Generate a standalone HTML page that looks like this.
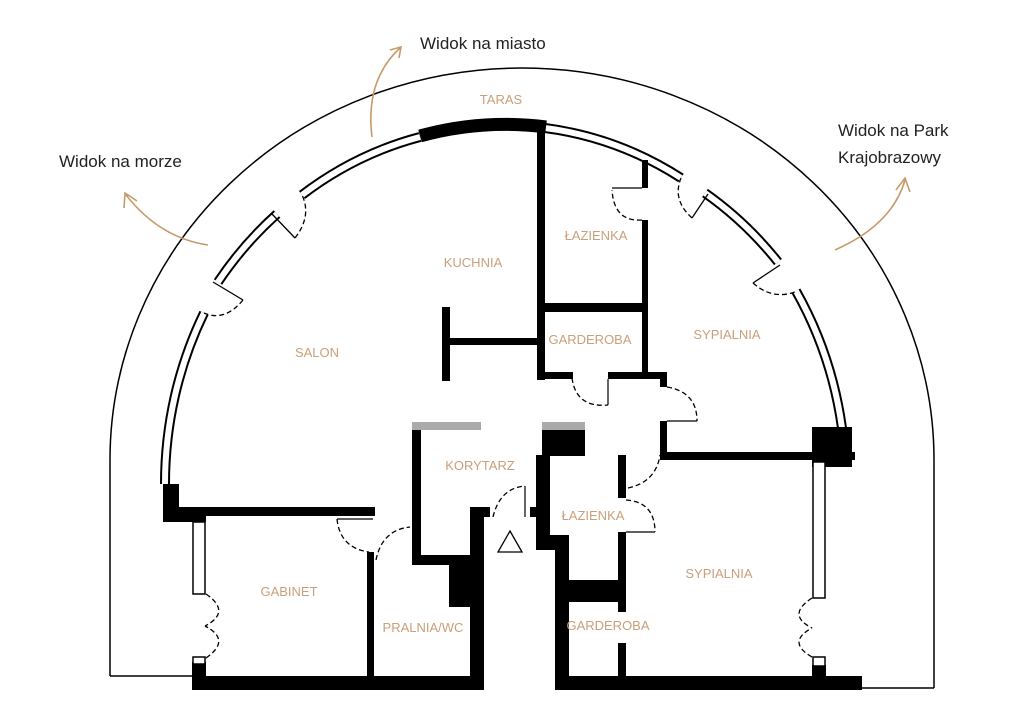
<!DOCTYPE html>
<html><head><meta charset="utf-8"><style>
html,body{margin:0;padding:0;background:#fff;}
svg{display:block;}
.l{font-family:"Liberation Sans",sans-serif;fill:#c9a07a;font-size:13px;text-anchor:middle;}
.b{font-family:"Liberation Sans",sans-serif;fill:#222;font-size:17px;}
.d{fill:none;stroke:#000;stroke-width:1.3;stroke-dasharray:5,3;}
.o{fill:none;stroke:#c79a6c;stroke-width:1.6;}
</style></head><body>
<svg width="1024" height="725" viewBox="0 0 1024 725" xmlns="http://www.w3.org/2000/svg">
<path d="M110,676 L110,460 A412 392 0 0 1 934,460 L934,688" fill="none" stroke="#000" stroke-width="1.5"/>
<line x1="110" y1="676" x2="193" y2="676" stroke="#000" stroke-width="1.5"/>
<line x1="862" y1="688" x2="934" y2="688" stroke="#000" stroke-width="1.5"/>
<defs>
<g id="w">
<path id="w1" d="M165,484 A345 370 0 0 1 204,313"/>
<path d="M218,282 A345 370 0 0 1 277,214"/>
<path d="M302,195 A345 370 0 0 1 420,137"/>
<path d="M545,128 A345 370 0 0 1 681,178"/>
<path d="M705,193 A345 370 0 0 1 778,262"/>
<path d="M796,291 A345 370 0 0 1 842,428"/>
</g>
</defs>
<use href="#w" fill="none" stroke="#000" stroke-width="10"/>
<use href="#w" fill="none" stroke="#fff" stroke-width="6"/>
<path d="M420,136 A345 370 0 0 1 546,127" fill="none" stroke="#000" stroke-width="13"/>
<line x1="213" y1="282" x2="243" y2="300" stroke="#000" stroke-width="1.3"/>
<path class="d" d="M243,300 Q225,322 204,313"/>
<line x1="272" y1="214" x2="295" y2="238" stroke="#000" stroke-width="1.3"/>
<path class="d" d="M295,238 Q312,216 302,195"/>
<line x1="708" y1="194" x2="692" y2="218" stroke="#000" stroke-width="1.3"/>
<path class="d" d="M692,218 Q672,200 681,178"/>
<line x1="780" y1="265" x2="753" y2="283" stroke="#000" stroke-width="1.3"/>
<path class="d" d="M753,283 Q772,300 795,292"/>
<g fill="#000">
<rect x="838" y="427" width="14" height="40"/>
<rect x="163" y="484" width="16" height="38"/>
<rect x="163" y="507" width="212" height="9"/>
<rect x="163" y="514" width="43" height="8"/>
<rect x="192" y="662" width="14" height="28"/>
<rect x="192" y="676" width="292" height="14"/>
<rect x="555" y="676" width="307" height="14"/>
<rect x="367" y="552" width="7" height="124"/>
<rect x="412" y="430" width="9" height="135"/>
<rect x="412" y="555" width="72" height="10"/>
<rect x="449" y="555" width="35" height="52"/>
<rect x="470" y="507" width="14" height="183"/>
<rect x="484" y="507" width="6" height="10"/>
<rect x="542" y="430" width="43" height="26"/>
<rect x="536" y="455" width="14" height="95"/>
<rect x="530" y="507" width="8" height="10"/>
<rect x="550" y="535" width="19" height="15"/>
<rect x="555" y="535" width="14" height="155"/>
<rect x="569" y="580" width="50" height="22"/>
<rect x="618" y="455" width="8" height="43"/>
<rect x="618" y="532" width="8" height="80"/>
<rect x="618" y="643" width="8" height="33"/>
<rect x="660" y="452" width="195" height="8"/>
<rect x="812" y="427" width="40" height="40"/>
<rect x="812" y="665" width="14" height="12"/>
<rect x="537" y="128" width="8" height="252"/>
<rect x="442" y="307" width="8" height="74"/>
<rect x="450" y="338" width="87" height="7"/>
<rect x="545" y="303" width="103" height="9"/>
<rect x="642" y="160" width="6" height="28"/>
<rect x="642" y="220" width="6" height="158"/>
<rect x="537" y="372" width="36" height="7"/>
<rect x="608" y="372" width="59" height="7"/>
<rect x="660" y="372" width="7" height="15"/>
<rect x="660" y="421" width="7" height="34"/>
</g>
<rect x="412" y="422" width="69" height="8" fill="#aaa"/>
<rect x="542" y="422" width="43" height="8" fill="#aaa"/>
<rect x="193" y="522" width="12" height="72" fill="#fff" stroke="#000" stroke-width="1.5"/>
<rect x="193" y="657" width="12" height="7" fill="#fff" stroke="#000" stroke-width="1.5"/>
<rect x="813" y="462" width="12" height="136" fill="#fff" stroke="#000" stroke-width="1.5"/>
<rect x="813" y="657" width="12" height="9" fill="#fff" stroke="#000" stroke-width="1.5"/>
<path class="d" d="M206,594 Q232,612 205,626 M206,658 Q232,640 205,626"/>
<path class="d" d="M812,598 Q786,615 812,628 M812,657 Q786,642 812,628"/>
<path class="d" d="M337,519 Q340,548 369,552"/>
<line x1="337" y1="519" x2="373" y2="519" stroke="#000" stroke-width="1.2"/>
<path class="d" d="M376,560 Q382,530 410,527"/>
<path class="d" d="M493,517 Q500,488 525,486"/>
<line x1="525" y1="486" x2="525" y2="517" stroke="#000" stroke-width="1.2"/>
<path class="d" d="M572,378 Q576,408 608,405"/>
<line x1="608" y1="379" x2="608" y2="405" stroke="#000" stroke-width="1.2"/>
<path class="d" d="M667,387 Q697,392 697,421"/>
<line x1="667" y1="421" x2="697" y2="421" stroke="#000" stroke-width="1.2"/>
<path class="d" d="M628,488 Q656,482 660,455"/>
<path class="d" d="M626,500 Q655,502 655,532"/>
<line x1="626" y1="532" x2="655" y2="532" stroke="#000" stroke-width="1.2"/>
<path class="d" d="M642,220 Q614,222 612,190"/>
<line x1="612" y1="188" x2="642" y2="188" stroke="#000" stroke-width="1.2"/>
<path d="M510,531 L522,552 L498,552 Z" fill="none" stroke="#000" stroke-width="1.3"/>
<path class="o" d="M372,137 Q365,80 400,48 M390,50 L401,47 L399,58"/>
<path class="o" d="M208,245 Q160,238 126,195 M124,208 L125,193 L137,201"/>
<path class="o" d="M835,250 Q892,225 905,180 M896,190 L905,178 L910,192"/>
<text class="l" x="501" y="104">TARAS</text>
<text class="l" x="473" y="267">KUCHNIA</text>
<text class="l" x="317" y="357">SALON</text>
<text class="l" x="596" y="240">ŁAZIENKA</text>
<text class="l" x="590" y="344">GARDEROBA</text>
<text class="l" x="727" y="339">SYPIALNIA</text>
<text class="l" x="480" y="470">KORYTARZ</text>
<text class="l" x="593" y="520">ŁAZIENKA</text>
<text class="l" x="719" y="578">SYPIALNIA</text>
<text class="l" x="289" y="596">GABINET</text>
<text class="l" x="423" y="632">PRALNIA/WC</text>
<text class="l" x="608" y="630">GARDEROBA</text>
<text class="b" x="420" y="49">Widok na miasto</text>
<text class="b" x="59" y="167">Widok na morze</text>
<text class="b" x="838" y="136">Widok na Park</text>
<text class="b" x="838" y="163">Krajobrazowy</text>
</svg>
</body></html>
